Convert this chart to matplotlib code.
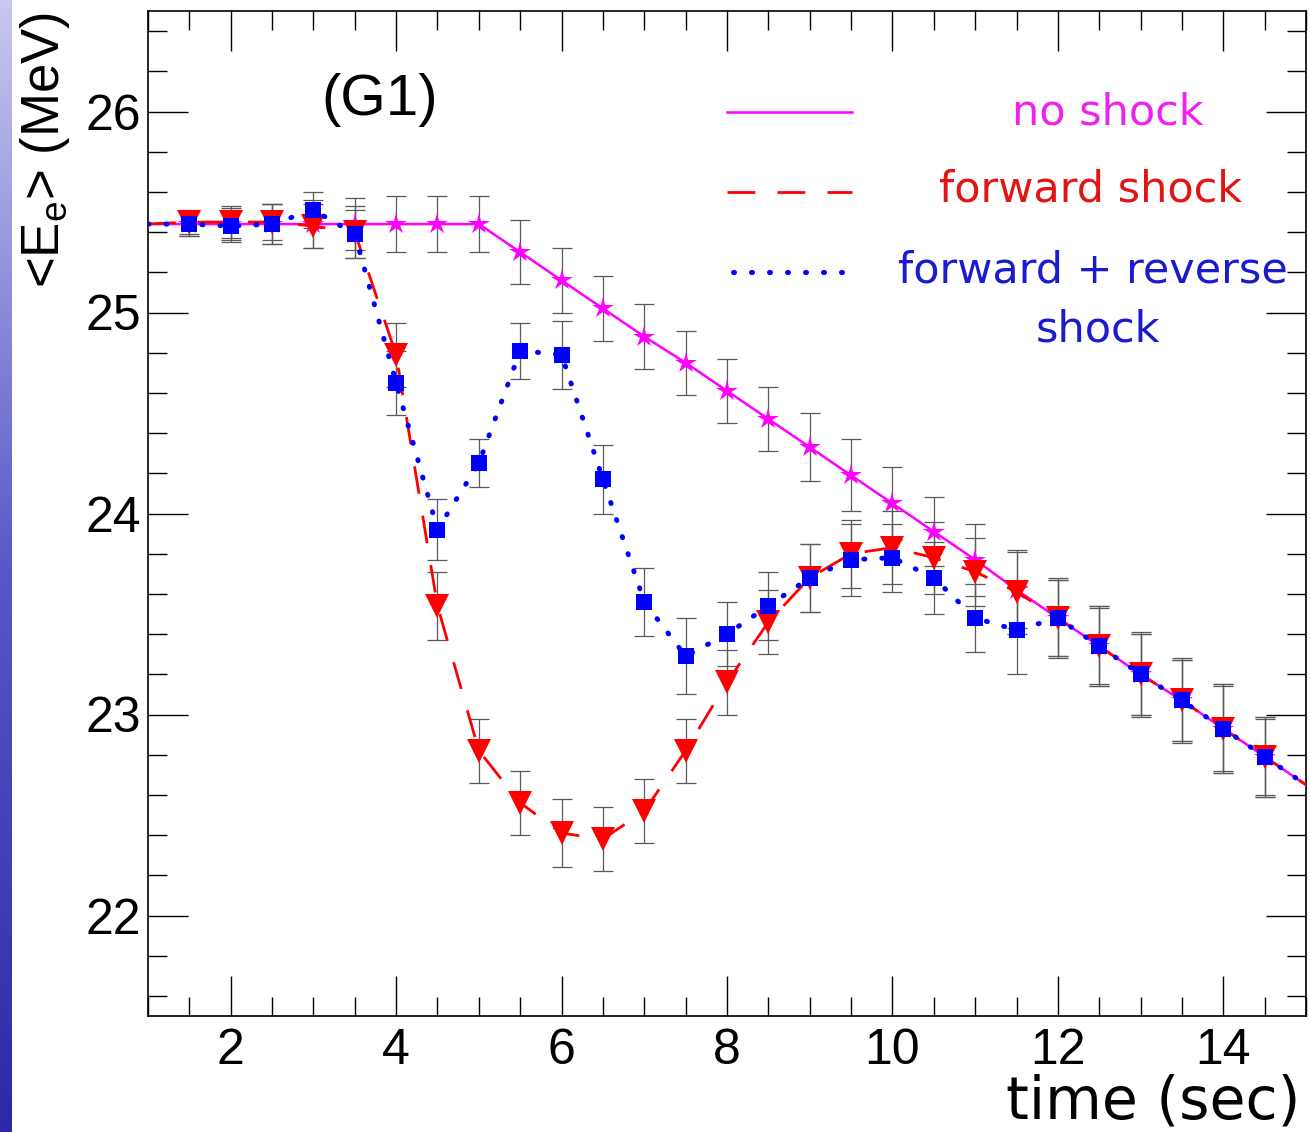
import numpy as np
import matplotlib
matplotlib.use("Agg")
import matplotlib.pyplot as plt
from matplotlib.ticker import MultipleLocator

# time grid of the curves (lines run 1 -> 15, markers sit on 1.5 ... 14.5)
time = [1.0, 1.5, 2.0, 2.5, 3.0, 3.5, 4.0, 4.5, 5.0, 5.5, 6.0, 6.5, 7.0, 7.5,
        8.0, 8.5, 9.0, 9.5, 10.0, 10.5, 11.0, 11.5, 12.0, 12.5, 13.0, 13.5,
        14.0, 14.5, 15.0]

no_shock = [25.44, 25.44, 25.44, 25.44, 25.44, 25.44, 25.44, 25.44, 25.44,
            25.30, 25.16, 25.02, 24.88, 24.75, 24.61, 24.47, 24.33, 24.19,
            24.05, 23.91, 23.77, 23.62, 23.48, 23.34, 23.20, 23.07, 22.93,
            22.79, 22.65]
fwd_shock = [25.44, 25.45, 25.45, 25.45, 25.43, 25.40, 24.79, 23.54, 22.82,
             22.56, 22.41, 22.38, 22.52, 22.82, 23.16, 23.46, 23.68, 23.80,
             23.83, 23.78, 23.71, 23.61, 23.48, 23.34, 23.20, 23.07, 22.93,
             22.79, 22.65]
fwd_rev = [25.44, 25.44, 25.43, 25.44, 25.51, 25.39, 24.65, 23.92, 24.25,
           24.81, 24.79, 24.17, 23.56, 23.29, 23.40, 23.54, 23.68, 23.77,
           23.78, 23.68, 23.48, 23.42, 23.48, 23.34, 23.20, 23.07, 22.93,
           22.79, 22.65]

# errors on the marked points (1.5 ... 14.5)
ns_err = [0.06, 0.08, 0.10, 0.12, 0.13, 0.14, 0.14, 0.14, 0.16, 0.16, 0.16,
          0.16, 0.16, 0.16, 0.16, 0.17, 0.18, 0.18, 0.17, 0.18, 0.19, 0.19,
          0.20, 0.20, 0.20, 0.21, 0.20]
fw_err = [0.06, 0.08, 0.09, 0.11, 0.13, 0.16, 0.17, 0.16, 0.16, 0.17, 0.16,
          0.16, 0.16, 0.16, 0.16, 0.17, 0.17, 0.18, 0.18, 0.17, 0.21, 0.20,
          0.20, 0.20, 0.21, 0.22, 0.20]
fr_err = [0.06, 0.08, 0.10, 0.09, 0.12, 0.16, 0.15, 0.12, 0.14, 0.17, 0.17,
          0.17, 0.19, 0.16, 0.17, 0.17, 0.18, 0.17, 0.18, 0.17, 0.22, 0.19,
          0.19, 0.21, 0.20, 0.22, 0.19]

MAG, RED, BLUE = "#ff00ff", "#ff0000", "#0000ff"
SANS = ["Liberation Sans", "DejaVu Sans"]

plt.rcParams["font.family"] = SANS
fig = plt.figure(figsize=(13.1, 11.32), dpi=100)
ax = fig.add_axes([148 / 1310, 1 - 1016 / 1132, 1158 / 1310, 1005 / 1132])

# slide background strip on the left
strip = fig.add_axes([0, 0, 12 / 1310, 1])
grad = np.linspace(0, 1, 256).reshape(-1, 1)
strip.imshow(grad, aspect="auto", cmap=matplotlib.colors.LinearSegmentedColormap.from_list(
    "slide", ["#c8c8f0", "#5858c8", "#2a2aa8"]), extent=(0, 1, 0, 1))
strip.axis("off")

t = np.array(time)
mk = slice(1, -1)
ebar = dict(fmt="none", ecolor="#5a5a5a", elinewidth=0.9, capsize=7, capthick=0.9, zorder=2)
ax.errorbar(t[mk], np.array(no_shock)[mk], yerr=ns_err, **ebar)
ax.errorbar(t[mk], np.array(fwd_shock)[mk], yerr=fw_err, **ebar)
ax.errorbar(t[mk], np.array(fwd_rev)[mk], yerr=fr_err, **ebar)

ax.plot(t, no_shock, color=MAG, lw=1.8, marker="*", ms=16, mew=0,
        markevery=mk, zorder=3)
ax.plot(t, fwd_shock, color=RED, lw=2.0, dashes=(10, 8), marker="v", ms=17,
        mew=0, markevery=mk, zorder=4)
ax.plot(t, fwd_rev, color=BLUE, lw=3.6, dashes=(0.2, 3.4), dash_capstyle="round",
        marker="s", ms=11, mew=0, markevery=mk, zorder=5)

ax.set_xlim(1, 15)
ax.set_ylim(21.5, 26.5)
ax.xaxis.set_major_locator(MultipleLocator(2))
ax.xaxis.set_minor_locator(MultipleLocator(0.5))
ax.yaxis.set_major_locator(MultipleLocator(1))
ax.yaxis.set_minor_locator(MultipleLocator(0.2))
ax.tick_params(which="both", direction="in", top=True, right=True, width=1.0,
               labelsize=36, colors="black")
ax.tick_params(which="major", length=29)
ax.tick_params(which="minor", length=14)
ax.tick_params(axis="x", pad=9)
ax.tick_params(axis="y", pad=5)
for s in ax.spines.values():
    s.set_linewidth(1.2)

# legend drawn by hand, ROOT style
tr = ax.transAxes
ax.plot([0.500, 0.608], [0.8995, 0.8995], color=MAG, lw=1.8, transform=tr)
ax.plot([0.500, 0.608], [0.820, 0.820], color=RED, lw=2.0, dashes=(10, 8), transform=tr)
ax.plot([0.505, 0.600], [0.740, 0.740], color=BLUE, lw=3.6, dashes=(0.2, 3.4),
        dash_capstyle="round", transform=tr)
lkw = dict(transform=tr, ha="center", va="center", fontsize=31, family=["DejaVu Sans"])
ax.text(0.829, 0.8995, "no shock", color="#ee22ee", **lkw)
ax.text(0.814, 0.822, "forward shock", color="#e01515", **lkw)
ax.text(0.816, 0.742, "forward + reverse", color="#1a1ad0", **lkw)
ax.text(0.820, 0.683, "shock", color="#1a1ad0", **lkw)

ax.text(0.200, 0.911, "(G1)", transform=tr, ha="center", va="center", fontsize=42)

fig.text(1300 / 1310, 1 - 1131 / 1132, "time (sec)", ha="right", va="bottom",
         fontsize=42, family=["DejaVu Sans"])
fig.text(45 / 1310, 1 - 12 / 1132, r"<E$_{\mathregular{e}}$> (MeV)", rotation=90,
         ha="center", va="top", fontsize=38)

fig.savefig("out.png", dpi=100, facecolor="white")
